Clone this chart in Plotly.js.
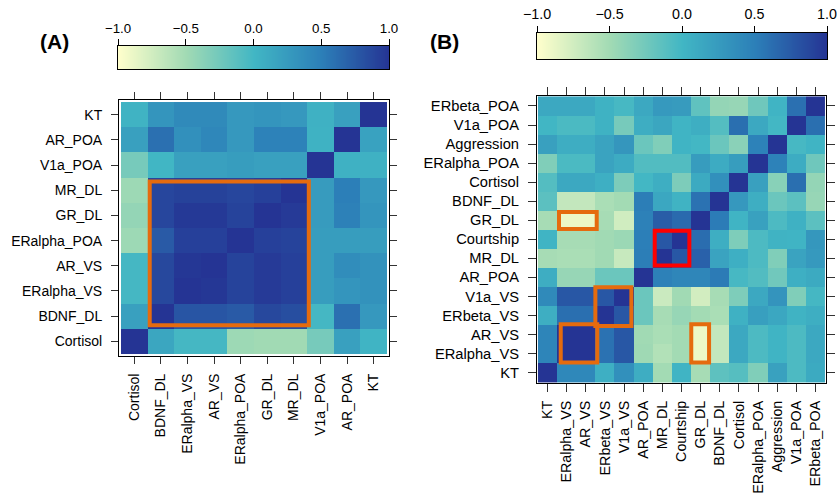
<!DOCTYPE html>
<html><head><meta charset="utf-8">
<script src="https://cdn.plot.ly/plotly-3.0.1.min.js"></script>
<style>html,body{margin:0;padding:0;background:#fff}#chart{width:837px;height:497px}</style>
</head><body><div id="chart"></div>
<script>
// ---------- Panel A data (rows bottom -> top, columns left -> right) ----------
const labelsA = ['Cortisol','BDNF_DL','ERalpha_VS','AR_VS','ERalpha_POA','GR_DL','MR_DL','V1a_POA','AR_POA','KT'];
const valuesA = [
  [ 1.00, 0.15,-0.02,-0.02,-0.48,-0.50,-0.50,-0.28, 0.20, 0.02],
  [ 0.20, 1.00, 0.78, 0.78, 0.75, 0.87, 0.83,-0.02, 0.60, 0.27],
  [-0.02, 0.87, 1.00, 0.98, 0.90, 0.96, 0.92, 0.23, 0.30, 0.33],
  [-0.02, 0.87, 0.98, 1.00, 0.90, 0.96, 0.92, 0.23, 0.37, 0.33],
  [-0.48, 0.75, 0.92, 0.92, 1.00, 0.92, 0.90, 0.23, 0.23, 0.23],
  [-0.43, 0.88, 0.97, 0.97, 0.90, 1.00, 0.96, 0.25, 0.48, 0.30],
  [-0.48, 0.88, 0.91, 0.91, 0.88, 0.92, 1.00, 0.25, 0.50, 0.27],
  [-0.28, 0.00, 0.20, 0.20, 0.23, 0.20, 0.20, 1.00, 0.05, 0.05],
  [ 0.20, 0.60, 0.35, 0.43, 0.27, 0.47, 0.47, 0.04, 1.00, 0.18],
  [ 0.03, 0.30, 0.40, 0.40, 0.27, 0.30, 0.27, 0.05, 0.20, 1.00]
];

// ---------- Panel B data (rows bottom -> top, columns left -> right) ----------
const labelsB = ['KT','ERalpha_VS','AR_VS','ERbeta_VS','V1a_VS','AR_POA','MR_DL','Courtship','GR_DL','BDNF_DL','Cortisol','ERalpha_POA','Aggression','V1a_POA','ERbeta_POA'];
const valuesB = [
  [ 1.00, 0.42, 0.42, 0.06, 0.35, 0.08,-0.51, 0.02,-0.53,-0.15,-0.11,-0.33, 0.19,-0.06, 0.11],
  [ 0.45, 1.00, 1.00, 0.59, 0.77,-0.49,-0.59,-0.51,-0.90,-0.68, 0.13,-0.06, 0.02,-0.06, 0.13],
  [ 0.45, 1.00, 1.00, 0.59, 0.77,-0.50,-0.55,-0.51,-0.90,-0.68, 0.13,-0.06, 0.02,-0.06, 0.13],
  [ 0.07, 0.61, 0.61, 1.00, 0.77,-0.22,-0.53,-0.45,-0.51,-0.55, 0.05, 0.21, 0.14, 0.03, 0.07],
  [ 0.40, 0.77, 0.77, 0.77, 1.00,-0.22,-0.72,-0.50,-0.76,-0.53,-0.32, 0.13, 0.31,-0.33,-0.02],
  [ 0.08,-0.45,-0.45,-0.22,-0.22, 1.00, 0.48, 0.44, 0.44, 0.53,-0.03,-0.09,-0.25, 0.06, 0.11],
  [-0.53,-0.55,-0.55,-0.50,-0.70, 0.51, 1.00, 0.77, 0.70, 0.17, 0.06,-0.06,-0.33, 0.17, 0.26],
  [ 0.02,-0.53,-0.53,-0.50,-0.47, 0.50, 0.77, 1.00, 0.62, 0.07,-0.32,-0.06, 0.03, 0.02, 0.28],
  [-0.53,-0.90,-0.90,-0.53,-0.75, 0.48, 0.73, 0.64, 1.00, 0.52, 0.02, 0.19,-0.06, 0.05,-0.14],
  [-0.14,-0.68,-0.68,-0.55,-0.51, 0.51, 0.14, 0.03, 0.59, 1.00, 0.27, 0.07,-0.22,-0.14,-0.45],
  [-0.10, 0.13, 0.13, 0.06,-0.31,-0.01, 0.07,-0.31, 0.11, 0.35, 1.00, 0.20,-0.37, 0.61,-0.43],
  [-0.33,-0.05,-0.05, 0.17, 0.10,-0.09,-0.09,-0.09, 0.24, 0.10, 0.23, 1.00, 0.47, 0.09,-0.24],
  [ 0.20, 0.08, 0.08, 0.17, 0.29,-0.22,-0.33, 0.02,-0.01,-0.22,-0.38, 0.47, 1.00,-0.03, 0.02],
  [ 0.00,-0.05,-0.05, 0.04,-0.28, 0.08, 0.15, 0.02, 0.07,-0.10, 0.61, 0.13,-0.01, 1.00, 0.61],
  [ 0.13, 0.13, 0.13, 0.04,-0.03, 0.13, 0.26, 0.25,-0.16,-0.43,-0.45,-0.24, 0.02, 0.60, 1.00]
];

// ---------- colour key ----------
const colorbarTicks = [-1, -0.5, 0, 0.5, 1];
const colorbarTickText = ['\u22121.0', '\u22120.5', '0.0', '0.5', '1.0'];

const scale = [[0,'#FFFFCC'],[0.25,'#A1DAB4'],[0.5,'#41B6C4'],[0.75,'#2C7FB8'],[1,'#253494']];
const W = 837, H = 497;
const px = (a,b) => [a/W, b/W];
const py = (top,bottom) => [1-bottom/H, 1-top/H];
const FONT = 'Liberation Sans, Arial, Helvetica, sans-serif';

const traces = [
  {type:'heatmap', x:labelsA, y:labelsA, z:valuesA, xaxis:'x', yaxis:'y',
   colorscale:scale, zmin:-1, zmax:1, showscale:false, hoverinfo:'x+y+z'},
  {type:'heatmap', x:labelsB, y:labelsB, z:valuesB, xaxis:'x2', yaxis:'y2',
   colorscale:scale, zmin:-1, zmax:1, showscale:false, hoverinfo:'x+y+z'},
  {type:'heatmap', x:colorbarTicks, y:[0,1], z:[colorbarTicks, colorbarTicks], xaxis:'x3', yaxis:'y3',
   colorscale:scale, zmin:-1, zmax:1, zsmooth:'best', showscale:false, hoverinfo:'skip'},
  {type:'heatmap', x:colorbarTicks, y:[0,1], z:[colorbarTicks, colorbarTicks], xaxis:'x4', yaxis:'y4',
   colorscale:scale, zmin:-1, zmax:1, zsmooth:'best', showscale:false, hoverinfo:'skip'}
];

function hmAxis(dom, rng, fs, tl, extra) {
  return Object.assign({domain:dom, range:rng, showgrid:false, zeroline:false, showline:true,
    linecolor:'#000', linewidth:1, mirror:'ticks', ticks:'outside', ticklen:tl, tickwidth:1,
    tickcolor:'#333', tickfont:{family:FONT, size:fs, color:'#000'}, fixedrange:true}, extra||{});
}
function keyX(dom, fs, anchor) {
  return {domain:dom, anchor:anchor, side:'top', range:[-1,1], showgrid:false, zeroline:false,
    showline:true, linecolor:'#000', linewidth:1, mirror:true, ticks:'outside', ticklen:6,
    tickcolor:'#000', tickvals:colorbarTicks, ticktext:colorbarTickText, ticklabelstandoff:1,
    tickfont:{family:FONT, size:fs, color:'#000'}, fixedrange:true};
}
function keyY(dom, anchor) {
  return {domain:dom, anchor:anchor, range:[0,1], showgrid:false, zeroline:false, showline:true,
    linecolor:'#000', linewidth:1, mirror:true, ticks:'', showticklabels:false, fixedrange:true};
}

const orange = '#E56B0E';
function box(xr, yr, x0, x1, y0, y1, col) {
  return {type:'rect', xref:xr, yref:yr, x0:x0, x1:x1, y0:y0, y1:y1,
          line:{color:col, width:4}, fillcolor:'rgba(0,0,0,0)', layer:'above'};
}

const layout = {
  width:W, height:H, autosize:false, margin:{l:0,r:0,t:0,b:0},
  paper_bgcolor:'#fff', plot_bgcolor:'#fff', showlegend:false,
  font:{family:FONT, color:'#000'},
  xaxis: hmAxis(px(119,389), [-0.575, 9.575], 14, 7, {anchor:'y', tickangle:-90, ticklabelstandoff:4}),
  yaxis: hmAxis(py(100,356), [-0.58, 9.58], 14, 7, {anchor:'x', ticklabelstandoff:6}),
  xaxis2: hmAxis(px(537,826), [-0.55, 14.55], 14.3, 8, {anchor:'y2', tickangle:-90, ticklabelstandoff:3}),
  yaxis2: hmAxis(py(95.5,383), [-0.55, 14.55], 14.7, 8, {anchor:'x2', ticklabelstandoff:6}),
  xaxis3: keyX(px(118,389), 13.3, 'y3'),
  yaxis3: keyY(py(46,69), 'x3'),
  xaxis4: keyX(px(537,827), 14.3, 'y4'),
  yaxis4: keyY(py(33,59), 'x4'),
  shapes: [
    box('x','y', 0.58, 6.56, 0.64, 6.35, orange),
    box('x2','y2', 0.60, 2.57, 7.54, 8.43, orange),
    box('x2','y2', 5.60, 7.41, 5.62, 7.45, '#FF0000'),
    box('x2','y2', 2.50, 4.38, 2.45, 4.48, orange),
    box('x2','y2', 0.69, 2.60, 0.53, 2.53, orange),
    box('x2','y2', 7.51, 8.44, 0.53, 2.53, orange)
  ],
  annotations: [
    {text:'<b>(A)</b>', xref:'paper', yref:'paper', x:54.5/W, y:1-41.7/H, xanchor:'center', yanchor:'middle',
     showarrow:false, font:{family:FONT, size:21, color:'#000'}},
    {text:'<b>(B)</b>', xref:'paper', yref:'paper', x:445/W, y:1-41.7/H, xanchor:'center', yanchor:'middle',
     showarrow:false, font:{family:FONT, size:21, color:'#000'}}
  ]
};

Plotly.newPlot('chart', traces, layout, {displayModeBar:false, responsive:false});
</script></body></html>
